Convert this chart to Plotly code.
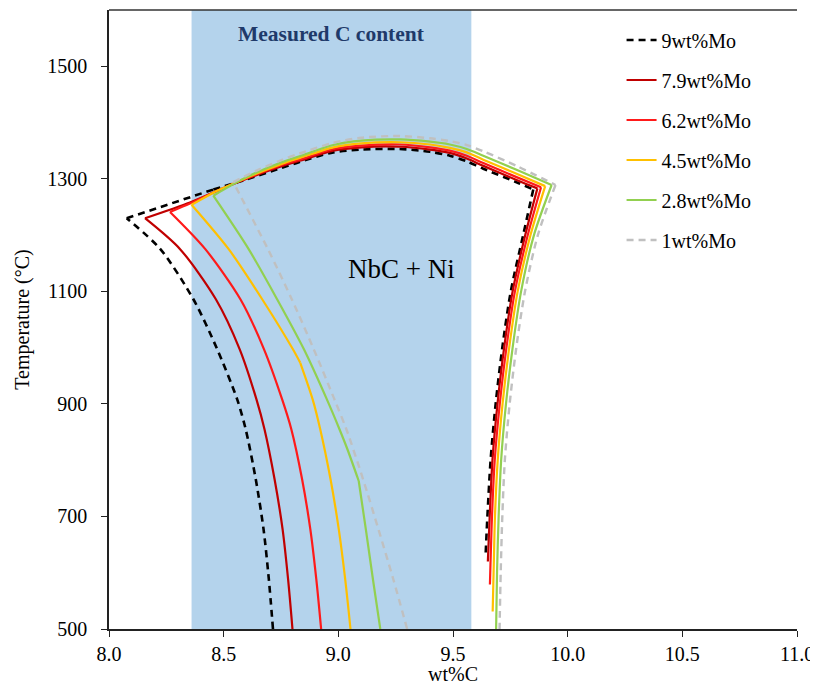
import plotly.graph_objects as go

# ---------------- data ----------------
series_names = ["9wt%Mo", "7.9wt%Mo", "6.2wt%Mo", "4.5wt%Mo", "2.8wt%Mo", "1wt%Mo"]

# 9 wt% Mo
mo9_x = [8.715, 8.697, 8.674, 8.640, 8.596, 8.559, 8.472, 8.368, 8.224, 8.077,
         8.455, 8.600, 8.750, 8.831, 8.978, 9.100, 9.268, 9.400, 9.486, 9.560, 9.632, 9.777, 9.850,
         9.806, 9.752, 9.715, 9.686, 9.664, 9.650, 9.642]
mo9_t = [500, 588, 677, 766, 855, 908, 997, 1086, 1175, 1230,
         1281, 1299, 1319, 1330, 1347, 1352, 1353, 1348, 1341, 1331, 1318, 1294, 1281,
         1200, 1100, 1000, 900, 800, 700, 630]

# 7.9 wt% Mo
mo79_x = [8.800, 8.781, 8.757, 8.722, 8.678, 8.643, 8.570, 8.466, 8.310, 8.157,
          8.353, 8.462, 8.600, 8.750, 8.831, 8.978, 9.100, 9.268, 9.400, 9.486, 9.560, 9.632, 9.777, 9.868,
          9.815, 9.760, 9.723, 9.694, 9.672, 9.660, 9.652]
mo79_t = [500, 588, 677, 766, 855, 908, 997, 1086, 1175, 1230,
          1258, 1277, 1300, 1322, 1332, 1350, 1356, 1357, 1352, 1346, 1336, 1323, 1298, 1283,
          1200, 1100, 1000, 900, 800, 700, 620]

# 6.2 wt% Mo
mo62_x = [8.925, 8.904, 8.878, 8.842, 8.795, 8.755, 8.676, 8.573, 8.420, 8.266,
          8.353, 8.462, 8.600, 8.750, 8.831, 8.978, 9.100, 9.268, 9.400, 9.486, 9.560, 9.632, 9.777, 9.884,
          9.826, 9.770, 9.733, 9.704, 9.682, 9.670, 9.661]
mo62_t = [500, 588, 677, 766, 855, 908, 997, 1086, 1175, 1241,
          1256, 1277, 1301, 1324, 1334, 1353, 1359, 1361, 1356, 1350, 1341, 1328, 1303, 1285,
          1200, 1100, 1000, 900, 800, 700, 579]

# 4.5 wt% Mo
mo45_x = [9.053, 9.030, 9.002, 8.966, 8.921, 8.888, 8.834, 8.802, 8.668, 8.522, 8.360,
          8.462, 8.600, 8.750, 8.831, 8.978, 9.100, 9.268, 9.400, 9.486, 9.560, 9.632, 9.777, 9.902,
          9.838, 9.782, 9.745, 9.716, 9.695, 9.683, 9.677, 9.673]
mo45_t = [500, 588, 677, 766, 855, 908, 973, 997, 1086, 1175, 1254,
          1277, 1302, 1326, 1337, 1356, 1363, 1365, 1361, 1355, 1347, 1334, 1309, 1287,
          1200, 1100, 1000, 900, 800, 700, 600, 531]

# 2.8 wt% Mo
mo28_x = [9.183, 9.151, 9.120, 9.089, 9.040, 9.005, 8.950, 8.850, 8.733, 8.609, 8.455,
          8.600, 8.750, 8.831, 8.978, 9.100, 9.268, 9.400, 9.486, 9.560, 9.632, 9.777, 9.930,
          9.853, 9.797, 9.760, 9.731, 9.710, 9.699, 9.692, 9.688]
mo28_t = [500, 588, 677, 763, 819, 855, 908, 997, 1086, 1175, 1270,
          1303, 1329, 1340, 1360, 1368, 1370, 1366, 1361, 1353, 1341, 1316, 1289,
          1200, 1100, 1000, 900, 800, 700, 600, 500]

# 1 wt% Mo
mo1_x = [9.300, 9.240, 9.175, 9.108, 9.035, 8.983, 8.893, 8.797, 8.693, 8.542,
         8.650, 8.750, 8.831, 8.978, 9.100, 9.268, 9.400, 9.486, 9.560, 9.632, 9.777, 9.947,
         9.870, 9.814, 9.776, 9.747, 9.726, 9.715, 9.708, 9.703]
mo1_t = [500, 588, 677, 766, 855, 908, 997, 1086, 1175, 1294,
         1316, 1333, 1345, 1364, 1373, 1376, 1372, 1367, 1360, 1349, 1323, 1289,
         1200, 1100, 1000, 900, 800, 700, 600, 500]

# indices of sharp corners (tip, join, right corner, kinks) in each series
mo9_breaks = [9, 10, 22]
mo79_breaks = [9, 11, 23]
mo62_breaks = [9, 11, 23]
mo45_breaks = [6, 10, 11, 23]
mo28_breaks = [3, 10, 22]
mo1_breaks = [9, 21]

measured_c_range = [8.36, 9.58]
x_ticks = [8.0, 8.5, 9.0, 9.5, 10.0, 10.5, 11.0]
y_ticks = [500, 700, 900, 1100, 1300, 1500]

# ---------------- styling ----------------
serif = "Liberation Serif, Times New Roman, serif"
styles = [
    dict(color="#000000", width=2.6, dash="7px,5px"),
    dict(color="#C00000", width=2.2, dash="solid"),
    dict(color="#FF1A1A", width=2.2, dash="solid"),
    dict(color="#FFC000", width=2.2, dash="solid"),
    dict(color="#92D050", width=2.2, dash="solid"),
    dict(color="#C0C0C0", width=2.4, dash="7px,5px"),
]
data = [(mo9_x, mo9_t, mo9_breaks), (mo79_x, mo79_t, mo79_breaks),
        (mo62_x, mo62_t, mo62_breaks), (mo45_x, mo45_t, mo45_breaks),
        (mo28_x, mo28_t, mo28_breaks), (mo1_x, mo1_t, mo1_breaks)]

fig = go.Figure()
for name, (xs, ts, brk), st in zip(series_names, data, styles):
    cuts = [0] + brk + [len(xs) - 1]
    for k in range(len(cuts) - 1):
        a, b = cuts[k], cuts[k + 1]
        fig.add_trace(go.Scatter(
            x=xs[a:b + 1], y=ts[a:b + 1], mode="lines", name=name,
            legendgroup=name, showlegend=(k == 0),
            line=dict(st, shape="spline", smoothing=0.8)))

fig.add_shape(type="rect", xref="x", yref="paper",
              x0=measured_c_range[0], x1=measured_c_range[1], y0=0, y1=1,
              fillcolor="#B4D3EC", line_width=0, layer="below")
# thin frame line along the top of the plot area
fig.add_shape(type="line", xref="paper", yref="paper", x0=0, x1=1, y0=1, y1=1,
              line=dict(color="#333333", width=1.5))

fig.add_annotation(x=sum(measured_c_range) / 2, y=1557, text="<b>Measured C content</b>",
                   showarrow=False, font=dict(family=serif, size=21.5, color="#1F3A6A"))
fig.add_annotation(x=9.277, y=1140, text="NbC + Ni", showarrow=False,
                   font=dict(family=serif, size=27, color="#000000"))

fig.update_layout(
    width=810, height=677,
    margin=dict(l=101, r=21, t=2, b=56),
    paper_bgcolor="white", plot_bgcolor="white",
    font=dict(family=serif, size=20, color="#000000"),
    showlegend=True,
    legend=dict(x=0.745, y=0.983, xanchor="left", yanchor="top",
                font=dict(family=serif, size=20), tracegroupgap=11,
                bgcolor="rgba(0,0,0,0)"),
    xaxis=dict(range=[8.0, 11.0], tickvals=x_ticks, ticktext=[f"{v:.1f}" for v in x_ticks],
               showgrid=False, zeroline=False, showline=True, linecolor="#222222", linewidth=1.5,
               ticks="outside", ticklen=6, tickcolor="#222222",
               automargin=False,
               title=dict(text="wt%C", font=dict(family=serif, size=20), standoff=30)),
    yaxis=dict(range=[500, 1600], tickvals=y_ticks,
               showgrid=False, zeroline=False, showline=True, linecolor="#222222", linewidth=1.5,
               ticks="outside", ticklen=6, tickcolor="#222222", ticklabelstandoff=10,
               automargin=False,
               title=dict(text="Temperature (°C)", font=dict(family=serif, size=20), standoff=12)),
)

fig.write_html("out.html")
